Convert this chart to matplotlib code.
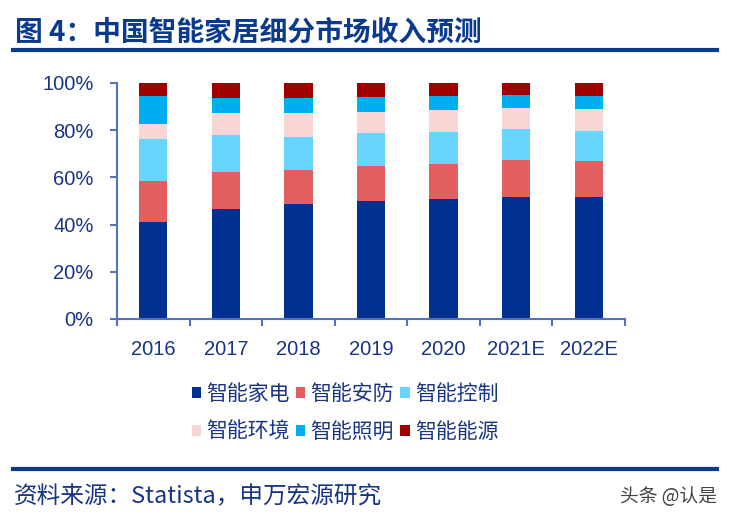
import numpy as np
import matplotlib.pyplot as plt
from matplotlib.patches import Patch
from matplotlib.lines import Line2D

years = ["2016", "2017", "2018", "2019", "2020", "2021E", "2022E"]

# shares in %
appliance = [41.1, 46.7, 48.7, 50.0, 51.0, 51.7, 51.6]
security = [17.4, 15.6, 14.3, 14.9, 14.6, 15.6, 15.4]
control = [17.8, 15.7, 14.2, 14.1, 13.6, 13.3, 12.7]
environment = [6.3, 9.4, 10.3, 8.8, 9.2, 8.9, 9.4]
lighting = [11.9, 6.2, 6.1, 6.3, 6.1, 5.3, 5.5]
energy = [5.5, 6.4, 6.4, 5.9, 5.5, 5.2, 5.4]

series = [appliance, security, control, environment, lighting, energy]
names = ["智能家电", "智能安防", "智能控制", "智能环境", "智能照明", "智能能源"]
colors = ["#003091", "#E35F5F", "#66D6FF", "#F8D6D6", "#00AEEF", "#A00000"]

navy = "#0A3A8E"
text_blue = "#183585"
axis_col = "#5573B8"
cjk = ["Noto Sans CJK SC", "DejaVu Sans"]

fig = plt.figure(figsize=(7.33, 5.25), dpi=100)
ax = fig.add_axes([117 / 733, 1 - 319 / 525, 508 / 733, 236 / 525])

x = np.arange(len(years))
bottom = np.zeros(len(years))
for vals, c in zip(series, colors):
    ax.bar(x, vals, width=0.39, bottom=bottom, color=c, linewidth=0)
    bottom += np.array(vals)

ax.set_xlim(-0.5, len(years) - 0.5)
ax.set_ylim(0, 100)
ax.set_yticks(range(0, 101, 20))
ax.set_yticklabels([f"{v}%" for v in range(0, 101, 20)])
ax.set_xticks(x)
ax.set_xticklabels(years)
ax.set_xticks(np.arange(-0.5, len(years)), minor=True)

for s in ["top", "right"]:
    ax.spines[s].set_visible(False)
for s in ["left", "bottom"]:
    ax.spines[s].set_color(axis_col)
    ax.spines[s].set_linewidth(1.5)

ax.tick_params(axis="y", length=5, width=1.5, color=axis_col, pad=12,
               labelsize=14.5, labelcolor=text_blue)
ax.tick_params(axis="x", which="major", length=0, pad=15,
               labelsize=14.5, labelcolor=text_blue)
ax.tick_params(axis="x", which="minor", length=5, width=1.5, color=axis_col)
for lab in ax.get_xticklabels() + ax.get_yticklabels():
    lab.set_family("Liberation Sans")

# legend fills column by column, so reorder to read row by row
order = [0, 3, 1, 4, 2, 5]
handles = [Patch(facecolor=colors[i], edgecolor="none") for i in order]
labels = [names[i] for i in order]
leg = fig.legend(handles, labels, loc="center", bbox_to_anchor=(345 / 733, 1 - 413 / 525),
                 ncol=3, frameon=False, handlelength=0.45, handleheight=0.45,
                 handletextpad=0.25, columnspacing=0.3, labelspacing=0.75, borderpad=0,
                 prop={"family": cjk, "size": 15})
for t in leg.get_texts():
    t.set_color(text_blue)

# title and source lines
fig.text(15 / 733, 1 - 33 / 525, "图 4：中国智能家居细分市场收入预测", family=cjk,
         fontsize=20, fontweight="bold", color=navy, va="center", ha="left")
fig.add_artist(Line2D([13 / 733, 717 / 733], [1 - 50 / 525, 1 - 50 / 525],
                      color=navy, linewidth=3))
fig.add_artist(Line2D([13 / 733, 717 / 733], [1 - 469 / 525, 1 - 469 / 525],
                      color=navy, linewidth=3))
fig.text(14 / 733, 1 - 497 / 525, "资料来源：Statista，申万宏源研究", family=cjk,
         fontsize=17, color=text_blue, va="center", ha="left")
fig.text(717 / 733, 1 - 497 / 525, "头条 @认是", family=cjk,
         fontsize=13.5, color="#444444", va="center", ha="right")

fig.savefig("out.png", dpi=100)
